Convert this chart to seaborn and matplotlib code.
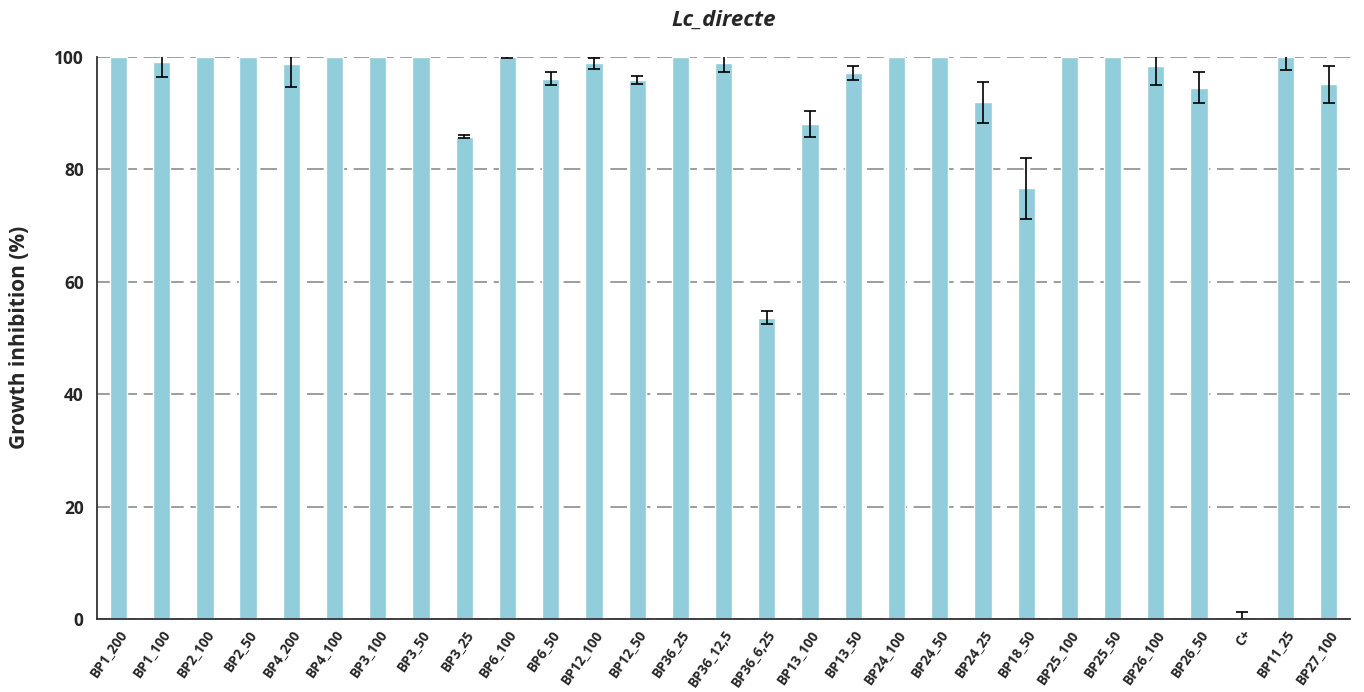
import matplotlib
matplotlib.use("Agg")
import matplotlib.pyplot as plt
import seaborn as sns
import pandas as pd
import numpy as np

samples = ["BP1_200", "BP1_100", "BP2_100", "BP2_50", "BP4_200", "BP4_100",
           "BP3_100", "BP3_50", "BP3_25", "BP6_100", "BP6_50", "BP12_100",
           "BP12_50", "BP36_25", "BP36_12,5", "BP36_6,25", "BP13_100", "BP13_50",
           "BP24_100", "BP24_50", "BP24_25", "BP18_50", "BP25_100", "BP25_50",
           "BP26_100", "BP26_50", "C+", "BP11_25", "BP27_100"]
inhibition = [100, 99.1, 100, 100, 98.7, 100,
              100, 100, 85.8, 100, 96.1, 98.8,
              95.9, 100, 98.9, 53.6, 88.1, 97.1,
              100, 100, 91.9, 76.6, 100, 100,
              98.3, 94.5, 0, 100, 95.1]
std_dev = [0, 2.7, 0, 0, 4.1, 0,
           0, 0, 0.3, 0.3, 1.1, 1.05,
           0.75, 0, 1.6, 1.2, 2.3, 1.25,
           0, 0, 3.65, 5.4, 0, 0,
           3.3, 2.7, 1.2, 2.4, 3.25]

df = pd.DataFrame({"sample": samples, "inhibition": inhibition, "sd": std_dev})

sns.set_style("white")
plt.rcParams["font.family"] = ["Open Sans", "DejaVu Sans"]

fig = plt.figure(figsize=(13.64, 6.92), dpi=100)
ax = fig.add_axes([0.071, 0.1055, 0.919, 0.8125])

ax.yaxis.grid(True, linestyle=(0, (10, 4)), color="#8c8c8c", linewidth=1.2)
ax.set_axisbelow(True)

sns.barplot(data=df, x="sample", y="inhibition", color="#92CDDC",
            saturation=1, width=0.4, errorbar=None, ax=ax)

# error bars (clipped by the axis limits)
has_err = df["sd"] > 0
xpos = np.arange(len(df))[has_err.values]
ax.errorbar(xpos, df.loc[has_err, "inhibition"], yerr=df.loc[has_err, "sd"],
            fmt="none", ecolor="black", elinewidth=1.2, capsize=4, capthick=1.2)

ax.set_xlim(-0.5, len(samples) - 0.5)
ax.set_ylim(0, 100)
ax.set_yticks([0, 20, 40, 60, 80, 100])

for s in ["top", "right"]:
    ax.spines[s].set_visible(False)
for s in ["left", "bottom"]:
    ax.spines[s].set_color("#333333")
    ax.spines[s].set_linewidth(1.3)

# category boundaries as tick marks on the x axis
ax.set_xticks(np.arange(len(samples) + 1) - 0.5, minor=True)
ax.tick_params(axis="x", which="minor", length=5, width=1.2, color="#333333", direction="out")
ax.tick_params(axis="x", which="major", length=0, pad=6)
ax.tick_params(axis="y", which="major", length=6, width=1.2, color="#333333",
               direction="out", labelsize=12.5)
ax.set_xticks(np.arange(len(samples)))
ax.set_xticklabels(samples, rotation=55, ha="right", rotation_mode="anchor",
                   fontsize=9.8, fontweight="bold")
for lbl in ax.get_yticklabels():
    lbl.set_fontweight("bold")

ax.set_xlabel("")
ax.set_ylabel("Growth inhibition (%)", fontsize=15, fontweight="bold", labelpad=17)
ax.set_title("Lc_directe", fontsize=16, fontweight="bold", style="italic", pad=22)

fig.savefig("out.png", dpi=100, facecolor="white")
